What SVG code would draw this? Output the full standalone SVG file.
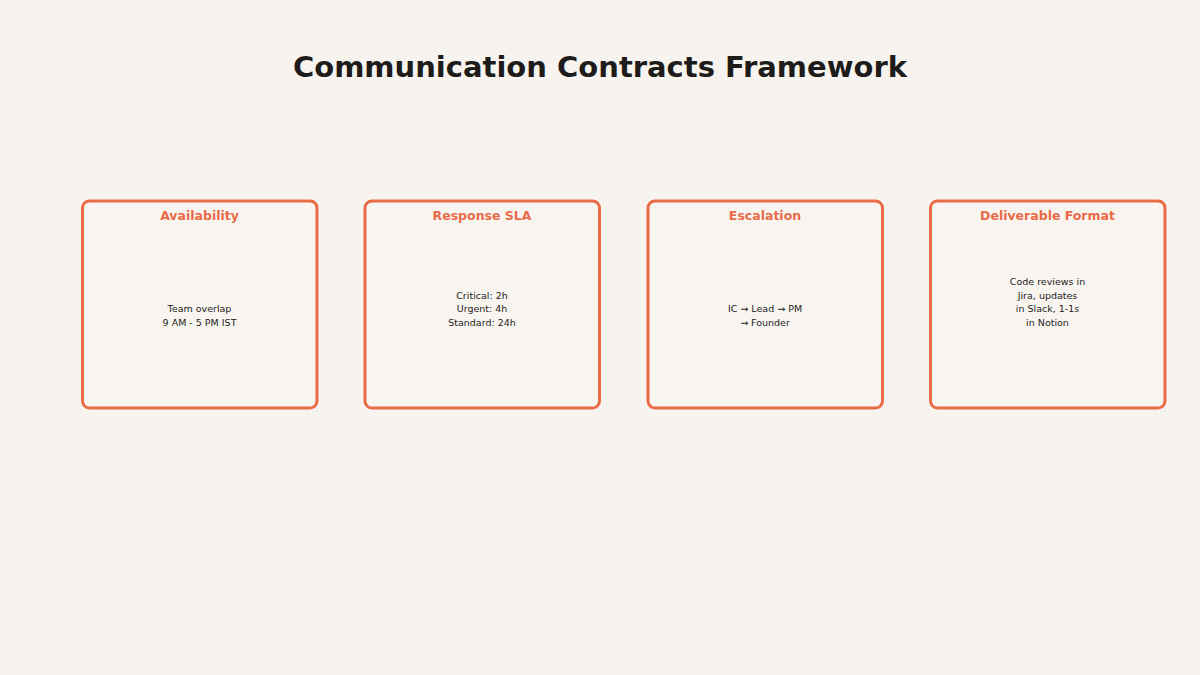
<svg xmlns="http://www.w3.org/2000/svg" width="1200" height="675" viewBox="0 0 1200 675">
<style>
.bg{fill:#F7F4EF}
.card{fill:#F8F5F1;stroke:#E96B48;stroke-width:3}
.title{font-family:"DejaVu Sans",sans-serif;font-weight:bold;font-size:29px;fill:#1E1C1A;text-anchor:middle}
.head{font-family:"DejaVu Sans",sans-serif;font-weight:bold;font-size:12.5px;fill:#E96B48;text-anchor:middle}
.body{font-family:"DejaVu Sans",sans-serif;font-size:9.5px;fill:#1E1C1A;text-anchor:middle}
</style>
<rect class="bg" x="0" y="0" width="1200" height="675"/>
<text class="title" x="600" y="77">Communication Contracts Framework</text>
<g id="availability">
<rect class="card" x="82.5" y="201" width="234.5" height="207" rx="7"/>
<text class="head" x="199.5" y="220">Availability</text>
<text class="body" x="199.5" y="312">Team overlap</text>
<text class="body" x="199.5" y="325.5">9 AM - 5 PM IST</text>
</g>
<g id="response-sla">
<rect class="card" x="365" y="201" width="234.5" height="207" rx="7"/>
<text class="head" x="482" y="220">Response SLA</text>
<text class="body" x="482" y="298.5">Critical: 2h</text>
<text class="body" x="482" y="312">Urgent: 4h</text>
<text class="body" x="482" y="325.5">Standard: 24h</text>
</g>
<g id="escalation">
<rect class="card" x="648" y="201" width="234.5" height="207" rx="7"/>
<text class="head" x="765" y="220">Escalation</text>
<text class="body" x="765" y="312">IC → Lead → PM</text>
<text class="body" x="765" y="325.5">→ Founder</text>
</g>
<g id="deliverable-format">
<rect class="card" x="930.5" y="201" width="234.5" height="207" rx="7"/>
<text class="head" x="1047.5" y="220">Deliverable Format</text>
<text class="body" x="1047.5" y="285">Code reviews in</text>
<text class="body" x="1047.5" y="298.5">Jira, updates</text>
<text class="body" x="1047.5" y="312">in Slack, 1-1s</text>
<text class="body" x="1047.5" y="325.5">in Notion</text>
</g>
<g id="connectors"></g>
</svg>
